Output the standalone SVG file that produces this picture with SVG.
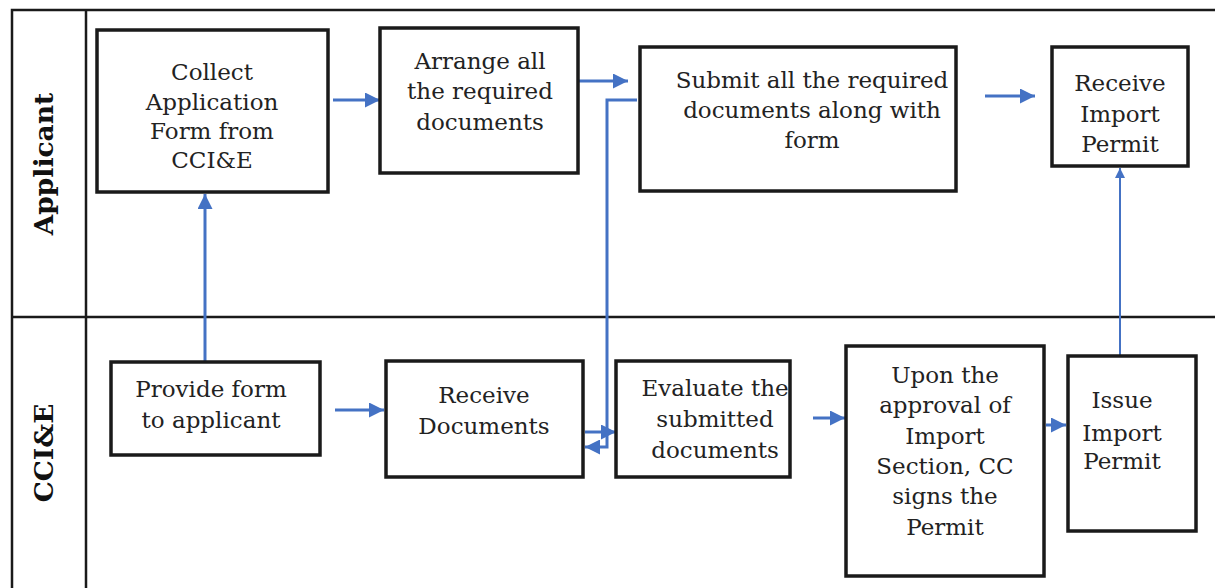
<svg xmlns="http://www.w3.org/2000/svg" width="1215" height="588" viewBox="0 0 1215 588">
<defs>
<style>
.lane{fill:none;stroke:#1a1a1a;stroke-width:2.5}
.box{fill:#fff;stroke:#1a1a1a;stroke-width:3.5}
.t{font-family:"DejaVu Serif","Liberation Serif",serif;font-size:23px;fill:#222;text-anchor:middle}
.lbl{font-family:"DejaVu Serif","Liberation Serif",serif;font-size:26.5px;font-weight:bold;fill:#111;text-anchor:middle}
.c{fill:none;stroke:#4472C4;stroke-width:3}
</style>
<marker id="ah" viewBox="0 0 10 10" refX="10" refY="5" markerWidth="5" markerHeight="5" markerUnits="strokeWidth" orient="auto">
<path d="M0,0 L10,5 L0,10 z" fill="#4472C4"/>
</marker>
</defs>
<rect width="1215" height="588" fill="#fff"/>
<g id="lanes">
<path class="lane" d="M12,600 V10 H1225 M86,10 V600 M12,317 H1225"/>
<text class="lbl" transform="translate(53,164) rotate(-90)">Applicant</text>
<text class="lbl" transform="translate(53,453) rotate(-90)">CCI&amp;E</text>
</g>
<g id="connectors">
<path class="c" d="M205,362 V194" marker-end="url(#ah)"/>
<path class="c" d="M333,100 H380" marker-end="url(#ah)"/>
<path class="c" d="M578,81 H628" marker-end="url(#ah)"/>
<path class="c" d="M637,100 H607 V447 H585" marker-end="url(#ah)"/>
<path class="c" d="M585,432 H616" marker-end="url(#ah)"/>
<path class="c" d="M813,418 H845" marker-end="url(#ah)"/>
<path class="c" d="M1046,425 H1066" marker-end="url(#ah)"/>
<path class="c" d="M985,96 H1035" marker-end="url(#ah)"/>
<path class="c" d="M335,410 H384" marker-end="url(#ah)"/>
<path class="c" style="stroke-width:2" d="M1120,356 V168" marker-end="url(#ah)"/>
</g>
<g id="collect">
<rect class="box" x="97" y="30" width="231" height="162"/>
<text class="t" x="212" y="80">Collect</text>
<text class="t" x="212" y="110">Application</text>
<text class="t" x="212" y="139">Form from</text>
<text class="t" x="212" y="168">CCI&amp;E</text>
</g>
<g id="arrange">
<rect class="box" x="380" y="28" width="198" height="145"/>
<text class="t" x="480" y="69">Arrange all</text>
<text class="t" x="480" y="99">the required</text>
<text class="t" x="480" y="130">documents</text>
</g>
<g id="submit">
<rect class="box" x="640" y="47" width="316" height="144"/>
<text class="t" x="812" y="88">Submit all the required</text>
<text class="t" x="812" y="118">documents along with</text>
<text class="t" x="812" y="148">form</text>
</g>
<g id="receive-permit">
<rect class="box" x="1052" y="47" width="136" height="119"/>
<text class="t" x="1120" y="91">Receive</text>
<text class="t" x="1120" y="122">Import</text>
<text class="t" x="1120" y="152">Permit</text>
</g>
<g id="provide">
<rect class="box" x="111" y="362" width="209" height="93"/>
<text class="t" x="211" y="397">Provide form</text>
<text class="t" x="211" y="428">to applicant</text>
</g>
<g id="receive-docs">
<rect class="box" x="386" y="361" width="197" height="116"/>
<text class="t" x="484" y="403">Receive</text>
<text class="t" x="484" y="434">Documents</text>
</g>
<g id="evaluate">
<rect class="box" x="616" y="361" width="174" height="116"/>
<text class="t" x="715" y="396">Evaluate the</text>
<text class="t" x="715" y="427">submitted</text>
<text class="t" x="715" y="458">documents</text>
</g>
<g id="approval">
<rect class="box" x="846" y="346" width="198" height="230"/>
<text class="t" x="945" y="383">Upon the</text>
<text class="t" x="945" y="413">approval of</text>
<text class="t" x="945" y="444">Import</text>
<text class="t" x="945" y="474">Section, CC</text>
<text class="t" x="945" y="504">signs the</text>
<text class="t" x="945" y="535">Permit</text>
</g>
<g id="issue">
<rect class="box" x="1068" y="356" width="128" height="175"/>
<text class="t" x="1122" y="408">Issue</text>
<text class="t" x="1122" y="441">Import</text>
<text class="t" x="1122" y="469">Permit</text>
</g>
</svg>
